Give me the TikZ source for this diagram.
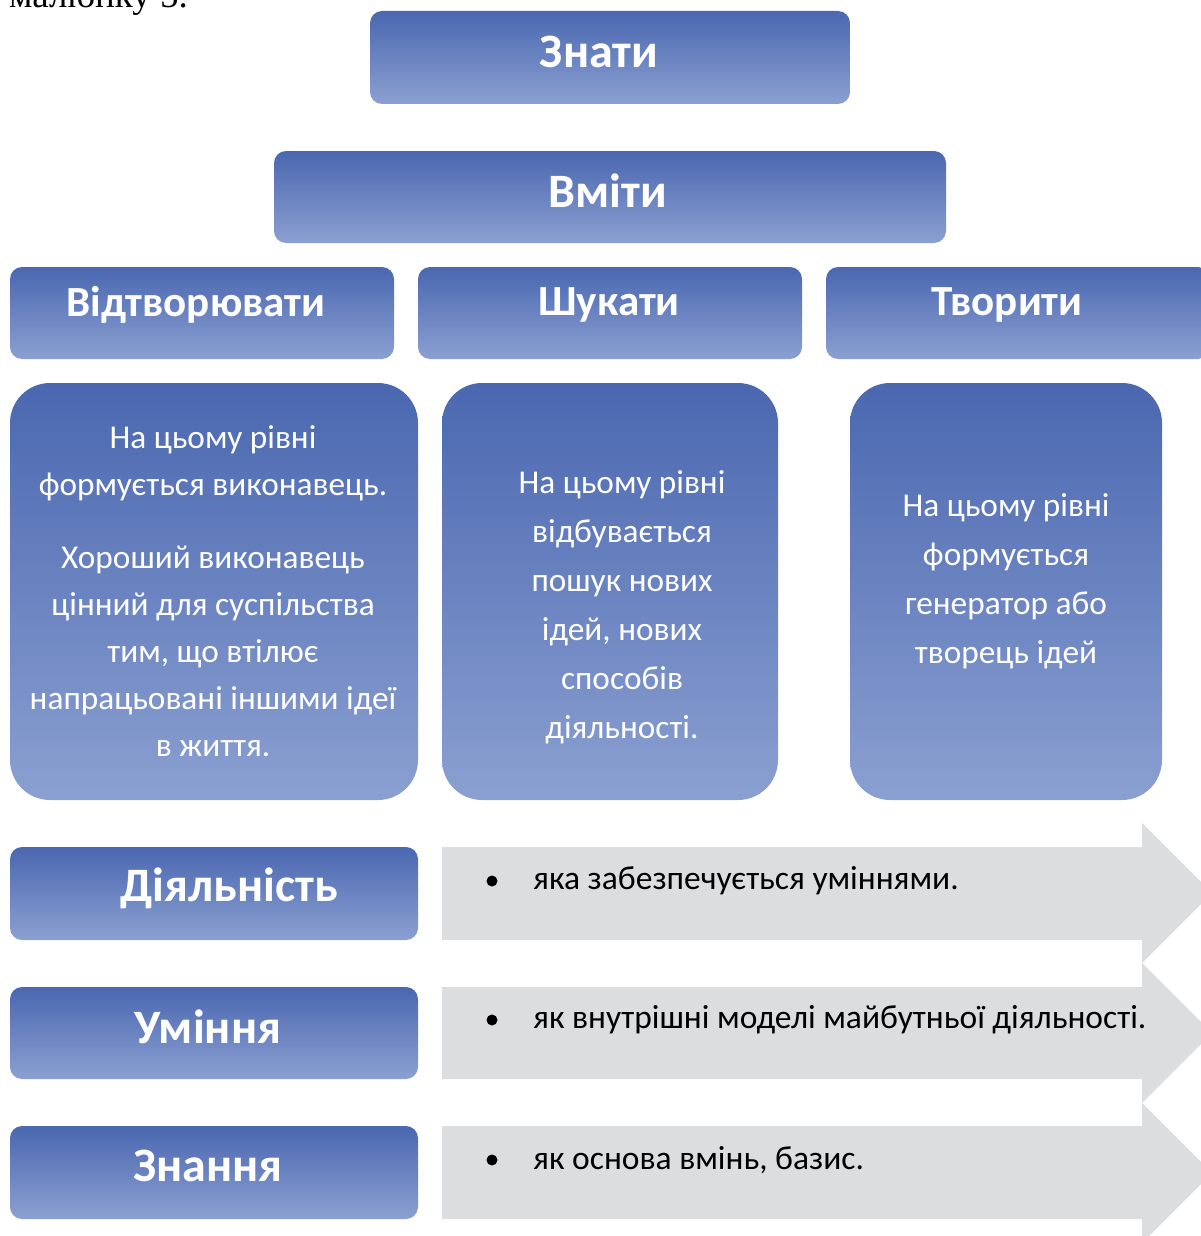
\documentclass[tikz,border=0pt]{standalone}
\usepackage{fontspec}
\setmainfont{Carlito}
\newfontfamily\serifcap{Liberation Serif}
\definecolor{hdrtop}{RGB}{74,103,176}
\definecolor{hdrbot}{RGB}{139,160,209}
\definecolor{arrowgray}{RGB}{220,221,223}
\tikzset{
  hdrbox/.style={shade, top color=hdrtop, bottom color=hdrbot, rounded corners=12pt, draw=none, inner sep=0pt},
  txtbox/.style={shade, top color=hdrtop, bottom color=hdrbot, rounded corners=40pt, draw=none, inner sep=0pt},
  hdrtext/.style={text=white, font=\bfseries\fontsize{48}{56}\selectfont, inner sep=0pt},
  lvltext/.style={text=white, font=\bfseries\fontsize{43}{50}\selectfont, inner sep=0pt},
  bodytext/.style={text=white, font=\fontsize{33.3}{47}\selectfont, align=center, inner sep=0pt},
  arrowshape/.style={fill=arrowgray, draw=none},
  arrowtext/.style={text=black, font=\fontsize{33.5}{40}\selectfont, anchor=west, inner sep=0pt}
}
\begin{document}
\begin{tikzpicture}[x=1pt,y=-1pt]
\useasboundingbox (0,0) rectangle (1200,1236);
\node[font=\serifcap\fontsize{37}{40}\selectfont, anchor=base west, inner sep=0pt] (cap) at (9,8) {малюнку 5.};
% header boxes
\node[hdrbox, minimum width=480pt, minimum height=93pt] (znaty) at (610,57.5) {};
\node[hdrtext] at (599,52) {Знати};
\node[hdrbox, minimum width=672pt, minimum height=92pt] (vmity) at (610,197) {};
\node[hdrtext] at (608,191) {Вміти};
\node[hdrbox, minimum width=384pt, minimum height=92pt] (vidtv) at (202,313) {};
\node[lvltext] at (196,305) {Відтворювати};
\node[hdrbox, minimum width=384pt, minimum height=92pt] (shuk) at (610,313) {};
\node[lvltext] at (609,305) {Шукати};
\node[hdrbox, minimum width=384pt, minimum height=92pt] (tvor) at (1018,313) {};
\node[lvltext] at (1007,305) {Творити};
% text boxes
\node[txtbox, minimum width=408pt, minimum height=417pt] (tb1) at (214,591.5) {};
\node[bodytext] at (213,591) {На цьому рівні\\формується виконавець.\\[26pt]Хороший виконавець\\цінний для суспільства\\тим, що втілює\\напрацьовані іншими ідеї\\в життя.};
\node[txtbox, minimum width=336pt, minimum height=417pt] (tb2) at (610,591.5) {};
\node[bodytext, font=\fontsize{33.3}{49}\selectfont] at (622,607) {На цьому рівні\\відбувається\\пошук нових\\ідей, нових\\способів\\діяльності.};
\node[txtbox, minimum width=312pt, minimum height=417pt] (tb3) at (1006,591.5) {};
\node[bodytext, font=\fontsize{33.3}{49}\selectfont] at (1006,581) {На цьому рівні\\формується\\генератор або\\творець ідей};
% arrows
\path[arrowshape] (442,847) -- (1142,847) -- (1142,823) -- (1212,893) -- (1142,963) -- (1142,940) -- (442,940) -- cycle;
\path[arrowshape] (442,987) -- (1142,987) -- (1142,963) -- (1212,1033) -- (1142,1103) -- (1142,1079) -- (442,1079) -- cycle;
\path[arrowshape] (442,1126) -- (1142,1126) -- (1142,1103) -- (1212,1173) -- (1142,1243) -- (1142,1219) -- (442,1219) -- cycle;
\node[arrowtext] (a1) at (533,881) {яка забезпечується уміннями.};
\node[arrowtext] (a2) at (533,1020) {як внутрішні моделі майбутньої діяльності.};
\node[arrowtext] (a3) at (533,1160) {як основа вмінь, базис.};
\foreach \yy in {881,1020,1160} \fill (492,\yy) circle (5.5pt);
% left boxes
\node[hdrbox, minimum width=408pt, minimum height=93pt] (diyal) at (214,893.5) {};
\node[hdrtext] at (229,888) {Діяльність};
\node[hdrbox, minimum width=408pt, minimum height=92pt] (uminnya) at (214,1033) {};
\node[hdrtext] at (208,1027) {Уміння};
\node[hdrbox, minimum width=408pt, minimum height=93pt] (znannya) at (214,1172.5) {};
\node[hdrtext] at (208,1166) {Знання};
\end{tikzpicture}
\end{document}
